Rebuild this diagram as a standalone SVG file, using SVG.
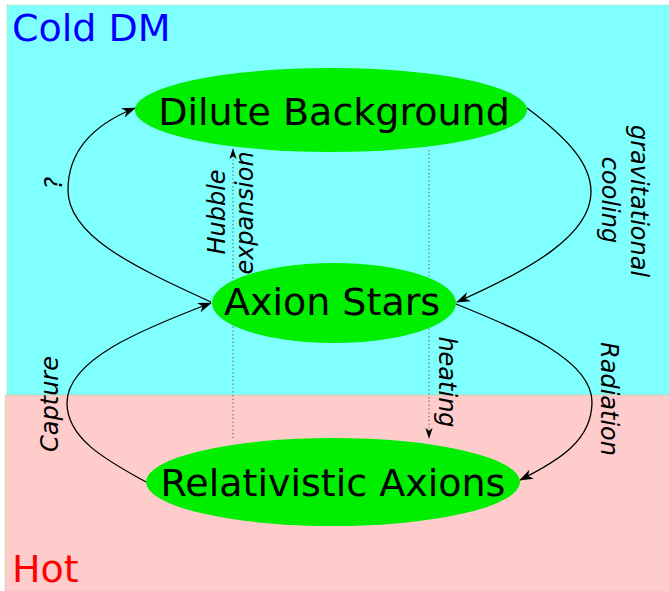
<svg xmlns="http://www.w3.org/2000/svg" width="669" height="591" viewBox="0 0 669 591">
  <defs>
    <marker id="arrow" viewBox="0 0 14 10" refX="13" refY="5" markerWidth="14" markerHeight="10" markerUnits="userSpaceOnUse" orient="auto">
      <path d="M0,0 L14,5 L0,10 L4,5 z" fill="#000"/>
    </marker>
    <marker id="arrow-small" viewBox="0 0 12 8" refX="11" refY="4" markerWidth="11" markerHeight="8" markerUnits="userSpaceOnUse" orient="auto">
      <path d="M0,0 L12,4 L0,8 L3,4 z" fill="#000"/>
    </marker>
    <style>
      .region-cold { fill: #80ffff; stroke: #a8d8a8; stroke-width: 1; stroke-dasharray: 1 1; }
      .region-hot { fill: #ffcccc; stroke: #a8d8a8; stroke-width: 1; stroke-dasharray: 1 1; }
      .node ellipse { fill: #00ee00; }
      .node text { font-family: "DejaVu Sans", sans-serif; font-size: 38px; fill: #000; text-anchor: middle; }
      .region-label { font-family: "DejaVu Sans", sans-serif; font-size: 38px; }
      .edge { fill: none; stroke: #000; stroke-width: 1.3; marker-end: url(#arrow); }
      .flow { fill: none; stroke: #666; stroke-width: 1.2; stroke-dasharray: 1.2 2.6; marker-end: url(#arrow-small); }
      .edge-label { font-family: "DejaVu Sans", sans-serif; font-style: italic; font-size: 24px; fill: #000; text-anchor: middle; }
    </style>
  </defs>

  <!-- regions -->
  <g id="regions">
    <rect class="region-cold" x="7" y="5" width="670" height="390"/>
    <rect class="region-hot" x="5" y="395" width="672" height="200"/>
    <text class="region-label" x="12" y="41" fill="#0000ff">Cold DM</text>
    <text class="region-label" x="12" y="582" fill="#ff0000">Hot</text>
  </g>

  <!-- connectors -->
  <g id="connectors">
    <path class="flow" d="M233,438 L233,149"/>
    <path class="flow" d="M429,150 L429,438"/>
    <path class="edge" d="M211,302 C130,265 68,235 68,190 C68,150 95,124 135,108"/>
    <path class="edge" d="M527,108 C570,140 591,165 591,192 C591,235 530,270 457,302"/>
    <path class="edge" d="M456,304 C520,330 592,360 592,402 C592,440 560,460 520,480"/>
    <path class="edge" d="M146,482 C110,462 67,440 67,403 C67,360 140,330 211,303"/>
    <text class="edge-label" transform="translate(62,183) rotate(-90)">?</text>
    <text class="edge-label" transform="translate(631,201) rotate(90)">gravitational</text>
    <text class="edge-label" transform="translate(602,200) rotate(90)">cooling</text>
    <text class="edge-label" transform="translate(225,212) rotate(-90)">Hubble</text>
    <text class="edge-label" transform="translate(253,213) rotate(-90)">expansion</text>
    <text class="edge-label" transform="translate(439,382) rotate(90)">heating</text>
    <text class="edge-label" transform="translate(601,399) rotate(90)">Radiation</text>
    <text class="edge-label" transform="translate(58,404) rotate(-90)">Capture</text>
  </g>

  <!-- nodes -->
  <g id="dilute-background" class="node">
    <ellipse cx="331" cy="110" rx="196" ry="42"/>
    <text x="334" y="125">Dilute Background</text>
  </g>
  <g id="axion-stars" class="node">
    <ellipse cx="334" cy="303" rx="122" ry="40"/>
    <text x="332" y="315">Axion Stars</text>
  </g>
  <g id="relativistic-axions" class="node">
    <ellipse cx="333" cy="482" rx="187" ry="44"/>
    <text x="333" y="496">Relativistic Axions</text>
  </g>
</svg>
